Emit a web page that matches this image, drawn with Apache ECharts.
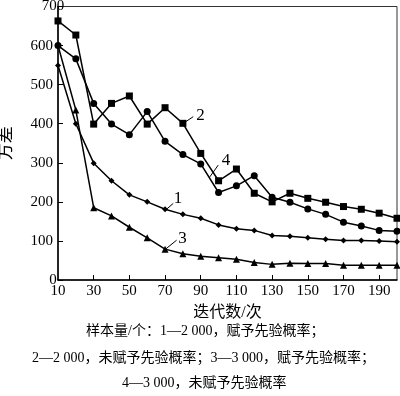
<!DOCTYPE html>
<html><head><meta charset="utf-8">
<script src="https://cdn.jsdelivr.net/npm/echarts@6/dist/echarts.min.js"></script>
<style>html,body{margin:0;padding:0;background:#fff}#c{width:400px;height:396px}</style>
</head><body><div id="c"></div>
<script>
const iterations = [10,20,30,40,50,60,70,80,90,100,110,120,130,140,150,160,170,180,190,200];
const series1 = [549,400,299,254,218,200,181,168,158,141,131,127,114,112,108,104,101,101,100,98];
const series2 = [663,627,399,452,471,399,441,401,324,254,284,222,200,222,209,199,188,181,171,158];
const series3 = [600,435,185,164,135,108,79,67,61,57,53,45,40,43,42,42,38,38,38,38];
const series4 = [600,566,452,399,372,431,355,321,297,224,241,267,212,199,182,168,148,138,127,125];
const xTickLabels = [10,30,50,70,90,110,130,150,170,190];
const yTickLabels = [0,100,200,300,400,500,600,700];
const curveNames = ['1','2','3','4'];
// annotation leader lines in data coords: [fromX, fromY, toX, toY, textX, textY]
const annotations = [
  [70.3,179, 74.6,196, 77.2,209],
  [80.2,401, 85.8,418, 89.8,422],
  [70.3,79, 76.5,102, 79.8,107],
  [95.1,264, 99.8,294, 104.2,307]
];
const xName = '迭代数/次';
const yName = '方差';
const captionLines = [
  '样本量/个：1—2 000，赋予先验概率；',
  '2—2 000，未赋予先验概率；3—3 000，赋予先验概率；',
  '4—3 000，未赋予先验概率'
];

const serif = "'Liberation Serif','Noto Sans CJK SC',serif";
const mix = "'Liberation Serif','Noto Sans CJK SC',serif";
const chart = echarts.init(document.getElementById('c'), null, {renderer:'canvas'});
function pairs(arr){ return iterations.map((x,i)=>[x,arr[i]]); }
const common = {type:'line', color:'#000', lineStyle:{color:'#000', width:1.5}, itemStyle:{color:'#000'}, animation:false, z:3};
const s3data = pairs(series3).map((p,i)=> i===0 ? {value:p, symbol:'none'} : p);
chart.setOption({
  animation:false,
  grid:{left:58, right:3, top:6.5, bottom:116, show:true, borderColor:'#333', borderWidth:1, containLabel:false, outerBoundsMode:'none'},
  xAxis:{type:'value', min:10, max:200,
    axisLine:{lineStyle:{color:'#000', width:1.5}},
    axisTick:{inside:true, length:5, lineStyle:{color:'#000', width:1}, customValues:xTickLabels.slice(1)},
    axisLabel:{customValues:xTickLabels, color:'#000', fontSize:15, fontFamily:serif, margin:4, alignMinLabel:'center', alignMaxLabel:'center', hideOverlap:false},
    splitLine:{show:false}
  },
  yAxis:{type:'value', min:0, max:700, interval:100,
    name:yName, nameLocation:'middle', nameRotate:90, nameGap:43,
    nameTextStyle:{fontSize:17, color:'#000', fontFamily:mix},
    axisLine:{lineStyle:{color:'#000', width:1.5}},
    axisTick:{inside:true, length:5, lineStyle:{color:'#000', width:1}},
    axisLabel:{color:'#000', fontSize:15, fontFamily:serif, margin:5, customValues:yTickLabels, alignMinLabel:'center', alignMaxLabel:'center'},
    splitLine:{show:false}
  },
  series:[
    Object.assign({}, common, {name:curveNames[0], data:pairs(series1), symbol:'diamond', symbolSize:6}),
    Object.assign({}, common, {name:curveNames[1], data:pairs(series2), symbol:'rect', symbolSize:7}),
    Object.assign({}, common, {name:curveNames[2], data:s3data, symbol:'triangle', symbolSize:7}),
    Object.assign({}, common, {name:curveNames[3], data:pairs(series4), symbol:'circle', symbolSize:7})
  ]
});
const g = [];
annotations.forEach((a,i)=>{
  const p1 = chart.convertToPixel({gridIndex:0},[a[0],a[1]]);
  const p2 = chart.convertToPixel({gridIndex:0},[a[2],a[3]]);
  const pt = chart.convertToPixel({gridIndex:0},[a[4],a[5]]);
  g.push({type:'line', shape:{x1:p1[0],y1:p1[1],x2:p2[0],y2:p2[1]}, style:{stroke:'#000', lineWidth:1}, z:10});
  g.push({type:'text', x:pt[0], y:pt[1], style:{text:curveNames[i], fontSize:17, fontFamily:serif, fill:'#000', align:'center', verticalAlign:'middle'}, z:10});
});
g.push({type:'text', x:227.5, y:313, style:{text:xName, fontSize:16, fontFamily:mix, fill:'#000', align:'center', verticalAlign:'middle'}});
const capX = [86, 32, 122];
const capY = [331, 358, 383];
captionLines.forEach((t,i)=>{
  g.push({type:'text', x:capX[i], y:capY[i], style:{text:t, fontSize:14, fontFamily:mix, fill:'#000', align:'left', verticalAlign:'middle'}});
});
chart.setOption({graphic:g});
</script></body></html>
